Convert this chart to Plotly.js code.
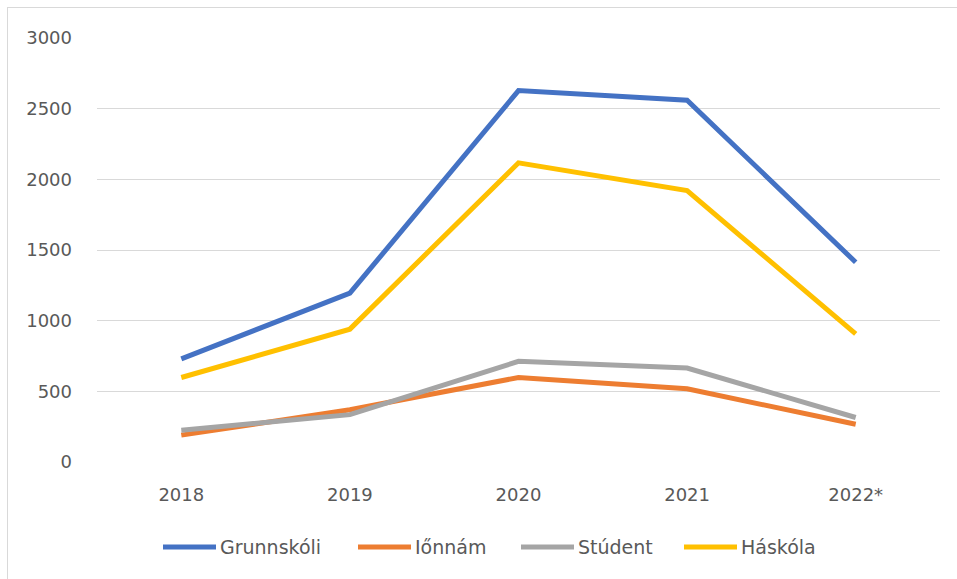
<!DOCTYPE html>
<html>
<head>
<meta charset="utf-8">
<script src="https://cdn.plot.ly/plotly-3.0.1.min.js"></script>
<style>
  html, body { margin: 0; padding: 0; background: #fff; }
  #wrap { position: relative; width: 957px; height: 579px; }
  #chart { position: absolute; left: 0; top: 0; width: 957px; height: 579px; }
  #frame { position: absolute; left: 7px; top: 7px; right: -2px; bottom: -2px;
           border: 1px solid #D9D9D9; pointer-events: none; }
</style>
</head>
<body>
<div id="wrap">
  <div id="chart"></div>
  <div id="frame"></div>
</div>
<script>
// Years on the category axis (2022 is provisional)
const years = ['2018', '2019', '2020', '2021', '2022*'];

// Series names and values
const seriesNames = ['Grunnskóli', 'Iőnnám', 'Stúdent', 'Háskóla'];
const grunnskoli = [730, 1195, 2628, 2560, 1413];
const idnnam     = [190, 370, 598, 518, 267];
const studentar  = [225, 335, 712, 665, 315];
const haskoli    = [598, 940, 2117, 1920, 906];

const yTicks = [0, 500, 1000, 1500, 2000, 2500, 3000];

const colors = ['#4472C4', '#ED7D31', '#A5A5A5', '#FFC000'];
const allValues = [grunnskoli, idnnam, studentar, haskoli];

const FONT = '"DejaVu Sans", "Open Sans", sans-serif';
const TEXT_COLOR = '#595959';

const traces = allValues.map((vals, i) => ({
  type: 'scatter',
  mode: 'lines',
  x: years,
  y: vals,
  name: seriesNames[i],
  line: { color: colors[i], width: 5 },
  hoverinfo: 'x+y+name'
}));

// Plot area geometry (pixels) used to place the hand-built legend
const W = 957, H = 579;
const margin = { l: 97, r: 17, t: 38, b: 117 };
const plotW = W - margin.l - margin.r;
const plotH = H - margin.t - margin.b;
const toPaperX = px => (px - margin.l) / plotW;
const toPaperY = py => (H - margin.b - py) / plotH;

// Legend: sample line + label for each series
const legendLineStart = [163, 358, 521, 684];
const legendLineLen = 53;
const legendY = 547;
const shapes = [];
const annotations = [];
seriesNames.forEach((name, i) => {
  shapes.push({
    type: 'line', xref: 'paper', yref: 'paper',
    x0: toPaperX(legendLineStart[i]), x1: toPaperX(legendLineStart[i] + legendLineLen),
    y0: toPaperY(legendY), y1: toPaperY(legendY),
    line: { color: colors[i], width: 5 }
  });
  annotations.push({
    xref: 'paper', yref: 'paper',
    x: toPaperX(legendLineStart[i] + legendLineLen + 2), y: toPaperY(legendY),
    xanchor: 'left', yanchor: 'middle',
    text: name, showarrow: false,
    font: { family: FONT, size: 19, color: TEXT_COLOR }
  });
});

const layout = {
  width: W, height: H,
  margin: margin,
  paper_bgcolor: 'rgba(0,0,0,0)',
  plot_bgcolor: '#fff',
  showlegend: false,
  font: { family: FONT, size: 18, color: TEXT_COLOR },
  xaxis: {
    type: 'category',
    range: [-0.5, years.length - 0.5],
    showgrid: false,
    zeroline: false,
    showline: false,
    ticks: '',
    ticklabelstandoff: 20,
    tickfont: { family: FONT, size: 18, color: TEXT_COLOR },
    fixedrange: true
  },
  yaxis: {
    range: [0, 3000],
    tickvals: yTicks,
    ticktext: yTicks.map(String),
    showgrid: true,
    gridcolor: '#D9D9D9',
    gridwidth: 1,
    zeroline: false,
    showline: false,
    ticks: '',
    ticklabelstandoff: 24,
    tickfont: { family: FONT, size: 18, color: TEXT_COLOR },
    fixedrange: true
  },
  shapes: shapes,
  annotations: annotations
};

Plotly.newPlot('chart', traces, layout, { displayModeBar: false, staticPlot: true });
</script>
</body>
</html>
